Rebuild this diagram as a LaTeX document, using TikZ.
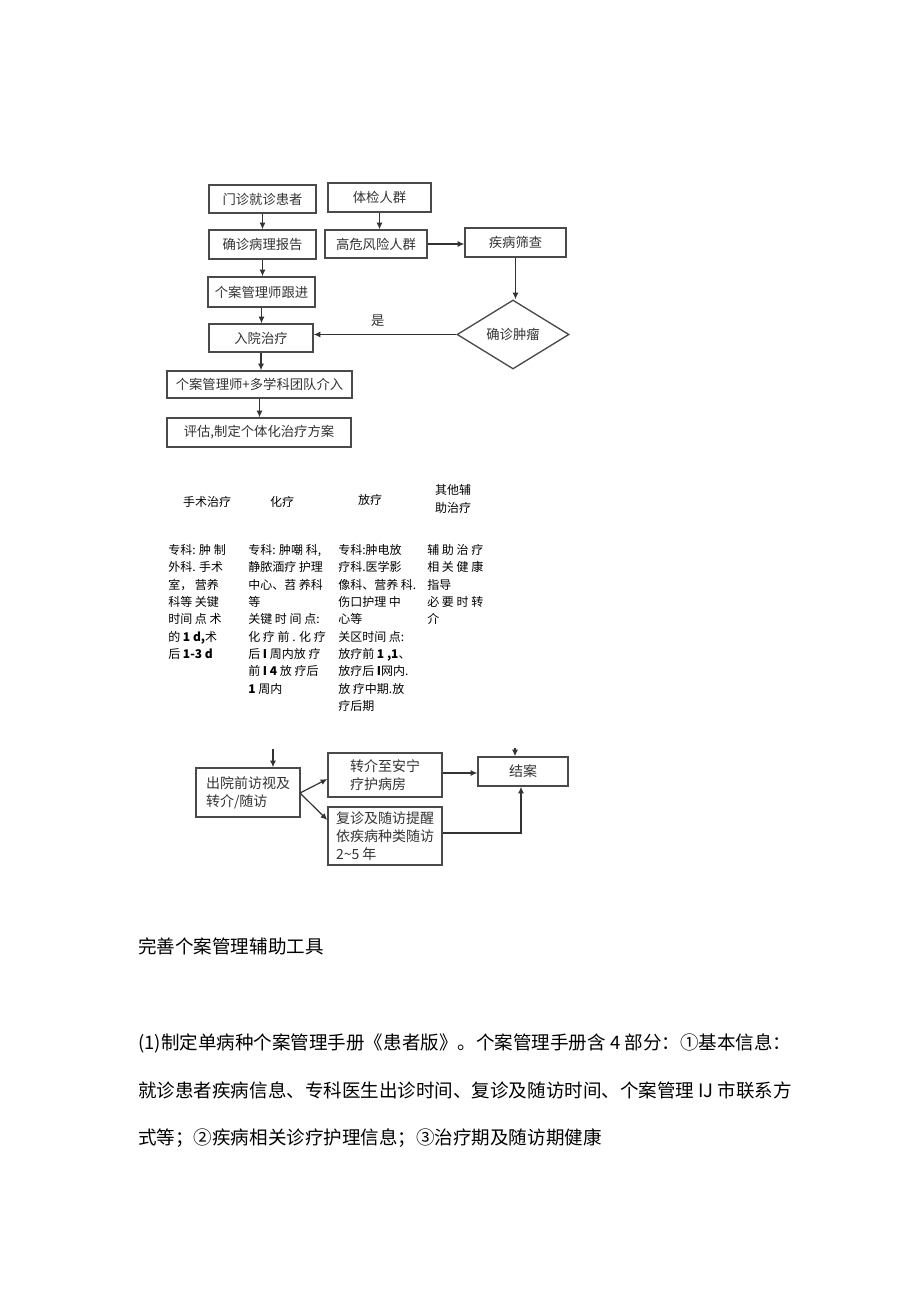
\documentclass[tikz,border=0pt]{standalone}
\usepackage{fontspec}
\setmainfont{Noto Sans CJK SC}
\usetikzlibrary{arrows.meta,shapes.geometric}
\definecolor{boxc}{HTML}{4A4A4A}
\definecolor{arrc}{HTML}{333333}
\definecolor{txtc}{HTML}{333333}
\newcommand\myBox{\fontsize{10}{13}\selectfont}
\newcommand\myBoxB{\fontsize{10.5}{13.5}\selectfont}
\newcommand\myCol{\fontsize{9}{13}\selectfont}
\newcommand\myBody{\fontsize{13.9}{16}\selectfont}
\begin{document}
\begin{tikzpicture}[x=0.75pt,y=-0.75pt,
  sz/.style 2 args={minimum width=#1*0.75pt, minimum height=#2*0.75pt},
  bx/.style={draw=boxc, line width=1pt, inner sep=0pt, font=\myBox, text=txtc},
  bxb/.style={bx, font=\myBoxB, align=left},
  arr/.style={draw=arrc, line width=0.9pt, -{Latex[length=5pt,width=4.5pt]}},
  coltext/.style={font=\myCol, align=left, anchor=north west, inner sep=0pt, text=black},
  colhead/.style={font=\myCol, align=center, inner sep=0pt, text=black},
  body/.style={font=\myBody, anchor=base west, inner sep=0pt, text=black}]
\useasboundingbox (0,0) rectangle (920,1301);
\fill[white] (0,0) rectangle (920,1301);

% top flowchart
\node[bx, sz={107}{28}] (men) at (262.5,199) {门诊就诊患者};
\node[bx, sz={103}{29}] (tij) at (379.5,197.5) {体检人群};
\node[bx, sz={107}{29}] (qzb) at (262.5,244.5) {确诊病理报告};
\node[bx, sz={102}{28}] (gw) at (376,244) {高危风险人群};
\node[bx, sz={101}{29}] (jb) at (515.5,242.5) {疾病筛查};
\node[bx, sz={107}{30}] (gj) at (261.5,292) {个案管理师跟进};
\node[bx, sz={104}{28}] (ry) at (261,338) {入院治疗};
\node[bx, shape=diamond, sz={112}{69}] (dia) at (513,334.5) {确诊肿瘤};
\node[bx, sz={185}{27}] (dx) at (259.5,384.5) {个案管理师+多学科团队介入};
\node[bx, sz={184}{29}] (pg) at (259,432.5) {评估,制定个体化治疗方案};

\draw[arr] (men.south) -- (men.south |- qzb.north);
\draw[arr] (qzb.south) -- (qzb.south |- gj.north);
\draw[arr] (gj.south) -- (gj.south |- ry.north);
\draw[arr] (ry.south) -- (ry.south |- dx.north);
\draw[arr] (dx.south) -- (dx.south |- pg.north);
\draw[arr] (tij.south) -- (tij.south |- gw.north);
\draw[arr] (gw.east) -- (gw.east -| jb.west);
\draw[arr] (jb.south) -- (jb.south |- dia.north);
\draw[arr] (dia.west) -- (dia.west -| ry.east)
  node[pos=0.55, above=2pt, font=\myBox, text=txtc] (shi) {是};

% treatment columns
\node[colhead] (h1) at (207,502) {手术治疗};
\node[colhead] (h2) at (282,502) {化疗};
\node[colhead] (h3) at (370,500) {放疗};
\node[colhead] (h4) at (453,499) {其他辅\\助治疗};

\node[coltext] (c1) at (168,544) {专科: 肿 制\\外科. 手术\\室， 营养\\科等 关键\\时间 点 术\\的 \textbf{1 d,}术\\后 \textbf{1-3 d}};
\node[coltext] (c2) at (248,544) {专科: 肿嘲 科,\\静脓湎疗 护理\\中心、苕 养科\\等\\关键 时 间 点:\\化 疗 前 . 化 疗\\后 \textbf{I} 周内放 疗\\前 \textbf{I 4} 放 疗后\\\textbf{1} 周内};
\node[coltext] (c3) at (338,544) {专科:肿电放\\疗科.医学影\\像科、营养 科.\\伤口护理 中\\心等\\关区时间 点:\\放疗前 \textbf{1 ,1}、\\放疗后 \textbf{I}网内.\\放 疗中期.放\\疗后期};
\node[coltext] (c4) at (427,544) {辅 助 治 疗\\相 关 健 康\\指导\\必 要 时 转\\介};

% bottom flowchart
\coordinate (inL) at (273,749);
\coordinate (inR) at (515,748);
\node[bxb, sz={104}{49}] (cy) at (248,792.5) {出院前访视及\\转介/随访};
\node[bxb, sz={114}{44}] (zj) at (385,775) {转介至安宁\\疗护病房};
\node[bxb, sz={114}{58}] (fz) at (385,836) {复诊及随访提醒\\依疾病种类随访\\2\textasciitilde5 年};
\node[bx, font=\myBoxB, sz={90}{29}] (ja) at (523,771.5) {结案};

\coordinate (cyo) at (300,793);
\draw[arr] (inL) -- (inL |- cy.north);
\draw[arr] (inR) -- (inR |- ja.north);
\draw[arr] (cyo) -- (zj.west |- 0,779);
\draw[arr] (cyo) -- (fz.west |- 0,820);
\draw[arr] (zj.east |- 0,773) -- (ja.west |- 0,773);
\draw[arr] (fz.east |- 0,833) -| (ja.south -| 521,0);

% body text
\node[body] (t0) at (138,953) {完善个案管理辅助工具};
\node[body] (t1) at (138,1049) {(1)制定单病种个案管理手册《患者版》。个案管理手册含 4 部分：①基本信息：};
\node[body] (t2) at (138,1097) {就诊患者疾病信息、专科医生出诊时间、复诊及随访时间、个案管理 IJ 市联系方};
\node[body] (t3) at (138,1144) {式等；②疾病相关诊疗护理信息；③治疗期及随访期健康};
\end{tikzpicture}
\end{document}
